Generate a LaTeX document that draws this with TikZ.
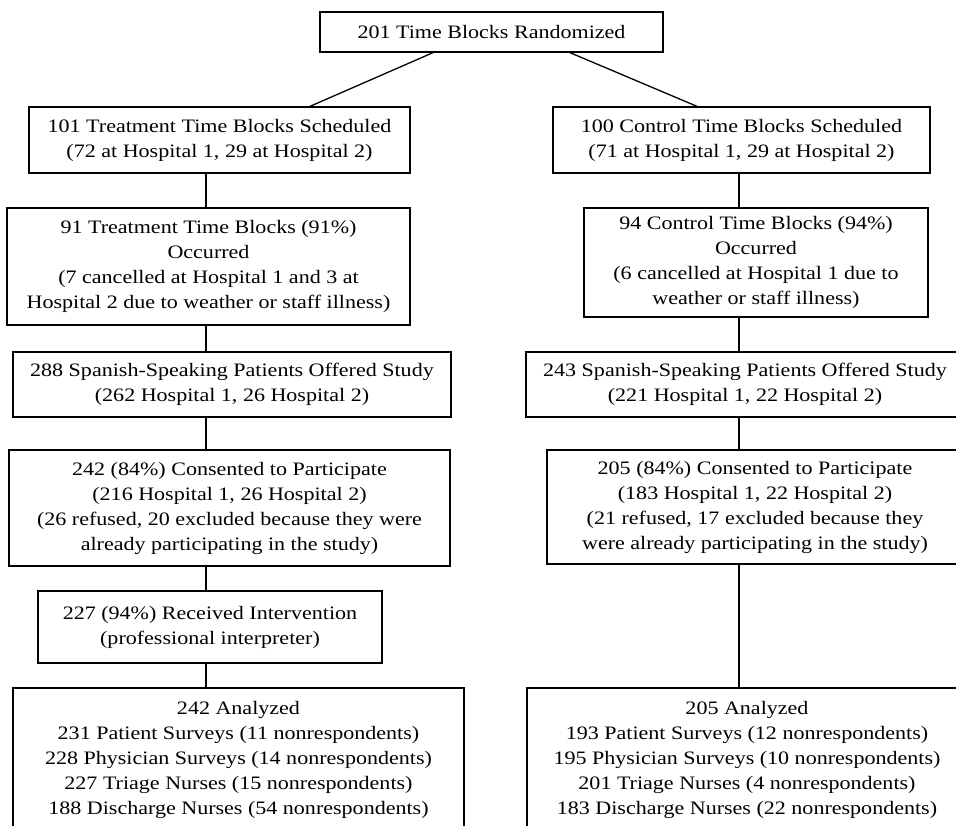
\documentclass[tikz,border=0pt]{standalone}
\usepackage{fontspec}
\setmainfont{Liberation Serif}[FakeStretch=1.16]
\begin{document}
\begin{tikzpicture}[x=1pt, y=-1pt, line width=1.3pt,
	blk/.style={draw, align=center, inner sep=0pt, font=\fontsize{19}{25}\selectfont}]
	%枠
	\useasboundingbox (0,0) rectangle (956,825);
	\clip (0,0) rectangle (956,825);
	%上
	\node[blk, minimum width=343pt, minimum height=40pt] (rand) at (491.5,32) {201 Time Blocks Randomized};
	%左列
	\node[blk, minimum width=381pt, minimum height=66pt] (trt1) at (219.5,140)
		{101 Treatment Time Blocks Scheduled\\(72 at Hospital 1, 29 at Hospital 2)};
	\node[blk, minimum width=403pt, minimum height=117pt] (trt2) at (208.5,266.5)
		{91 Treatment Time Blocks (91\%)\\Occurred\\(7 cancelled at Hospital 1 and 3 at\\Hospital 2 due to weather or staff illness)};
	\node[blk, minimum width=438pt, minimum height=65pt] (trt3) at (232,384.5)
		{288 Spanish-Speaking Patients Offered Study\\(262 Hospital 1, 26 Hospital 2)};
	\node[blk, minimum width=441pt, minimum height=116pt] (trt4) at (229.5,508)
		{242 (84\%) Consented to Participate\\(216 Hospital 1, 26 Hospital 2)\\(26 refused, 20 excluded because they were\\already participating in the study)};
	\node[blk, minimum width=344pt, minimum height=72pt] (trt5) at (210,627)
		{227 (94\%) Received Intervention\\(professional interpreter)};
	\node[blk, minimum width=451pt, minimum height=144pt] (trt6) at (238.5,760)
		{242 Analyzed\\231 Patient Surveys (11 nonrespondents)\\228 Physician Surveys (14 nonrespondents)\\227 Triage Nurses (15 nonrespondents)\\188 Discharge Nurses (54 nonrespondents)};
	%右列
	\node[blk, minimum width=377pt, minimum height=66pt] (ctl1) at (741.5,140)
		{100 Control Time Blocks Scheduled\\(71 at Hospital 1, 29 at Hospital 2)};
	\node[blk, minimum width=344pt, minimum height=109pt] (ctl2) at (756,262.5)
		{94 Control Time Blocks (94\%)\\Occurred\\(6 cancelled at Hospital 1 due to\\weather or staff illness)};
	\node[blk, minimum width=438pt, minimum height=65pt] (ctl3) at (745,384.5)
		{243 Spanish-Speaking Patients Offered Study\\(221 Hospital 1, 22 Hospital 2)};
	\node[blk, minimum width=416pt, minimum height=114pt] (ctl4) at (755,507)
		{205 (84\%) Consented to Participate\\(183 Hospital 1, 22 Hospital 2)\\(21 refused, 17 excluded because they\\were already participating in the study)};
	\node[blk, minimum width=440pt, minimum height=144pt] (ctl6) at (747,760)
		{205 Analyzed\\193 Patient Surveys (12 nonrespondents)\\195 Physician Surveys (10 nonrespondents)\\201 Triage Nurses (4 nonrespondents)\\183 Discharge Nurses (22 nonrespondents)};
	%線
	\coordinate (lx) at (206,0);
	\coordinate (rx) at (739,0);
	\draw ([xshift=-58.5pt]rand.south)--([xshift=90.5pt]trt1.north);
	\draw ([xshift=78.5pt]rand.south)--([xshift=-44.5pt]ctl1.north);
	\draw (trt1.south -| lx)--(trt2.north -| lx);
	\draw (trt2.south -| lx)--(trt3.north -| lx);
	\draw (trt3.south -| lx)--(trt4.north -| lx);
	\draw (trt4.south -| lx)--(trt5.north -| lx);
	\draw (trt5.south -| lx)--(trt6.north -| lx);
	\draw (ctl1.south -| rx)--(ctl2.north -| rx);
	\draw (ctl2.south -| rx)--(ctl3.north -| rx);
	\draw (ctl3.south -| rx)--(ctl4.north -| rx);
	\draw (ctl4.south -| rx)--(ctl6.north -| rx);
\end{tikzpicture}
\end{document}
